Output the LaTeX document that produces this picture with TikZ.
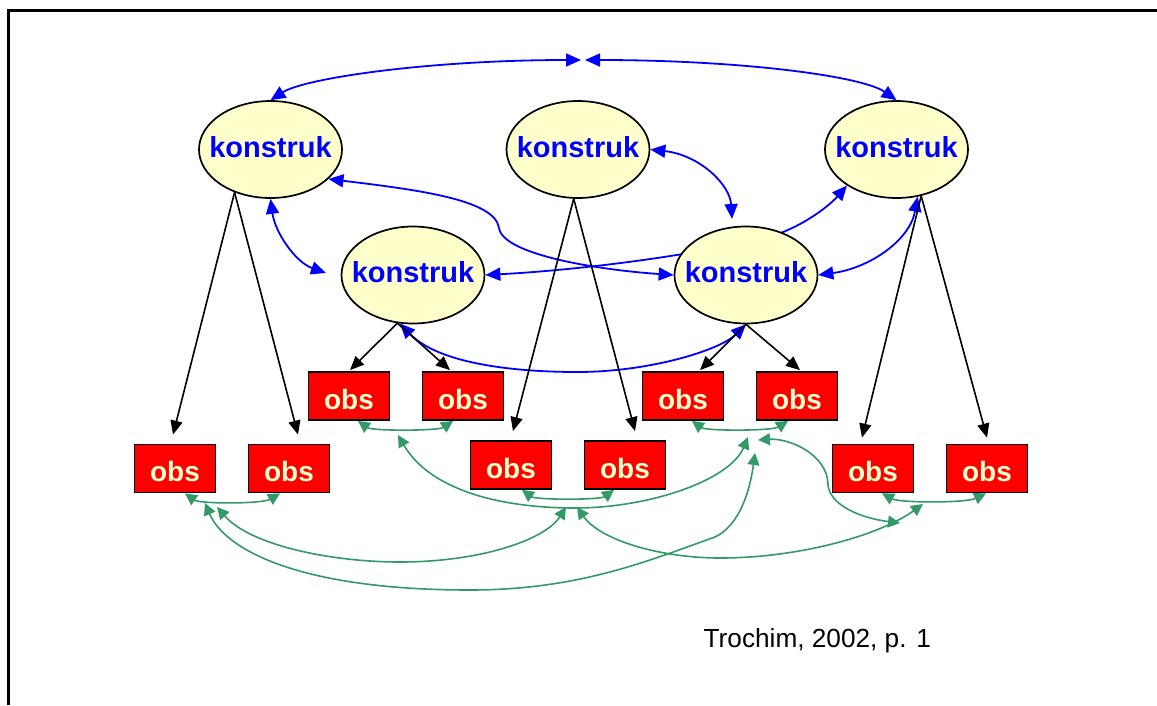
\documentclass[tikz,border=0pt]{standalone}
\usepackage{fontspec}
\setmainfont{Liberation Sans}
\usetikzlibrary{arrows.meta,shapes.geometric,calc}
\definecolor{cream}{HTML}{FFFFCC}
\definecolor{seagrn}{HTML}{339966}
\pgfdeclarelayer{bg}
\pgfsetlayers{bg,main}
\begin{document}
\begin{tikzpicture}[x=1pt,y=-1pt,
  kons/.style={ellipse, draw=black, line width=1.7pt, fill=cream,
    minimum width=143pt, minimum height=97pt, inner sep=0pt, text=blue,
    font=\bfseries\fontsize{29}{29}\selectfont, text height=15pt, text depth=0pt},
  obsbox/.style={rectangle, draw=black, line width=1.8pt, fill=red,
    minimum width=81pt, minimum height=48pt, inner sep=0pt, text=cream,
    font=\bfseries\fontsize{28}{28}\selectfont, text height=26pt, text depth=0pt},
  blink/.style={draw=blue, line width=1.8pt,
    {Triangle[length=15pt,width=13pt]}-{Triangle[length=15pt,width=13pt]}},
  klink/.style={draw=black, line width=1.6pt, -{Triangle[length=14pt,width=12pt]}},
  glink/.style={draw=seagrn, line width=1.6pt,
    {Triangle[length=12pt,width=12pt]}-{Triangle[length=12pt,width=12pt]}}
]
\useasboundingbox (0,0) rectangle (1157,705);

% frame
\draw[line width=2.5pt] (8.7,705) -- (8.7,10.3) -- (1157,10.3);

% constructs
\node[kons] (A) at (270.5,149.5) {\makebox[0pt]{konstruk}};
\node[kons] (B) at (578,149.5) {\makebox[0pt]{konstruk}};
\node[kons] (C) at (896.5,149.5) {\makebox[0pt]{konstruk}};
\node[kons] (D) at (413,275) {\makebox[0pt]{konstruk}};
\node[kons] (E) at (746,275) {\makebox[0pt]{konstruk}};

% observations
\node[obsbox] (O1) at (349,396) {obs};
\node[obsbox] (O2) at (463,396) {obs};
\node[obsbox] (O3) at (683,396) {obs};
\node[obsbox] (O4) at (797,396) {obs};
\node[obsbox] (O5) at (175,468.5) {obs};
\node[obsbox] (O6) at (289,468.5) {obs};
\node[obsbox] (O7) at (511,465) {obs};
\node[obsbox] (O8) at (625,465) {obs};
\node[obsbox] (O9) at (873,468.5) {obs};
\node[obsbox] (O10) at (987,468.5) {obs};

% free ends of the curved links
\coordinate (tL) at (581,60);
\coordinate (tR) at (585,60);
\coordinate (eTop) at (732,219);
\coordinate (dW) at (326,273);
\coordinate (ga1) at (205,503);
\coordinate (ga2) at (755,453);
\coordinate (gb1) at (217,507);
\coordinate (gb2) at (566,507);
\coordinate (gc1) at (577,507);
\coordinate (gc2) at (923,504);
\coordinate (gd1) at (398,435);
\coordinate (gd2) at (748,437);
\coordinate (ge1) at (758,440);
\coordinate (ge2) at (900,523);

\node[anchor=base west, inner sep=0pt, font=\fontsize{26.2}{26.2}\selectfont] (cite) at (703.5,647.5) {Trochim, 2002, p. 1};

\begin{pgfonlayer}{bg}
% construct correlations
\draw[blink] (A.north) .. controls (305,78) and (430,60) .. (tL);
\draw[blink] (tR) .. controls (740,60) and (862,76) .. (C.north);
\draw[blink] (A.-27) .. controls (420,190) and (495,200) .. (499,228)
  .. controls (503,255) and (600,270) .. (E.west);
\draw[blink] (D.east) .. controls (580,270) and (700,255) .. (775,235)
  .. controls (805,225) and (830,205) .. (C.216);
\draw[blink] (D.255) .. controls (440,365) and (520,372) .. (577,372)
  .. controls (650,372) and (720,350) .. (E.south);
\draw[blink] (B.east) .. controls (700,155) and (730,185) .. (eTop);
\draw[blink] (A.south) .. controls (275,232) and (295,262) .. (dW);
\draw[blink] (E.east) .. controls (870,268) and (910,240) .. (C.-66);

% measurement paths
\draw[klink] (A.230) -- ([shift={(-2,-9)}]O5.north);
\draw[klink] (A.230) -- ([shift={(9,-9)}]O6.north);
\draw[klink] (B.265) -- ([shift={(2,-9)}]O7.north);
\draw[klink] (B.265) -- ([shift={(10,-9)}]O8.north);
\draw[klink] (D.252) -- ([shift={(1,-1)}]O1.north);
\draw[klink] (D.252) -- ([shift={(-13,-1)}]O2.north);
\draw[klink] (E.south) -- ([shift={(17,-1)}]O3.north);
\draw[klink] (E.south) -- ([shift={(3,-1)}]O4.north);
\draw[klink] (C.-62) -- ([shift={(-11,-6)}]O9.north);
\draw[klink] (C.-62) -- ([shift={(0,-6)}]O10.north);

% observation correlations
\draw[glink] ([xshift=10pt]O5.south) .. controls (200,504) and (262,504) .. ([xshift=-9pt]O6.south);
\draw[glink] ([xshift=9pt]O1.south) .. controls (372,431) and (438,431) .. ([xshift=-10pt]O2.south);
\draw[glink] ([xshift=11pt]O7.south) .. controls (536,500) and (600,500) .. ([xshift=-11pt]O8.south);
\draw[glink] ([xshift=9pt]O3.south) .. controls (706,431) and (772,431) .. ([xshift=-9pt]O4.south);
\draw[glink] ([xshift=9pt]O9.south) .. controls (900,503) and (966,503) .. ([xshift=-1pt]O10.south);

\draw[glink] (ga1) .. controls (225,550) and (300,590) .. (470,590)
  .. controls (580,590) and (650,560) .. (715,537)
  .. controls (740,525) and (750,490) .. (ga2);
\draw[glink] (gb1) .. controls (250,545) and (330,562) .. (400,562)
  .. controls (480,562) and (545,540) .. (gb2);
\draw[glink] (gc1) .. controls (600,540) and (660,558) .. (720,558)
  .. controls (800,558) and (880,535) .. (gc2);
\draw[glink] (gd1) .. controls (430,490) and (500,508) .. (575,508)
  .. controls (650,508) and (730,480) .. (gd2);
\draw[glink] (ge1) .. controls (790,438) and (828,455) .. (828,485)
  .. controls (830,505) and (860,518) .. (ge2);
\end{pgfonlayer}
\end{tikzpicture}
\end{document}
